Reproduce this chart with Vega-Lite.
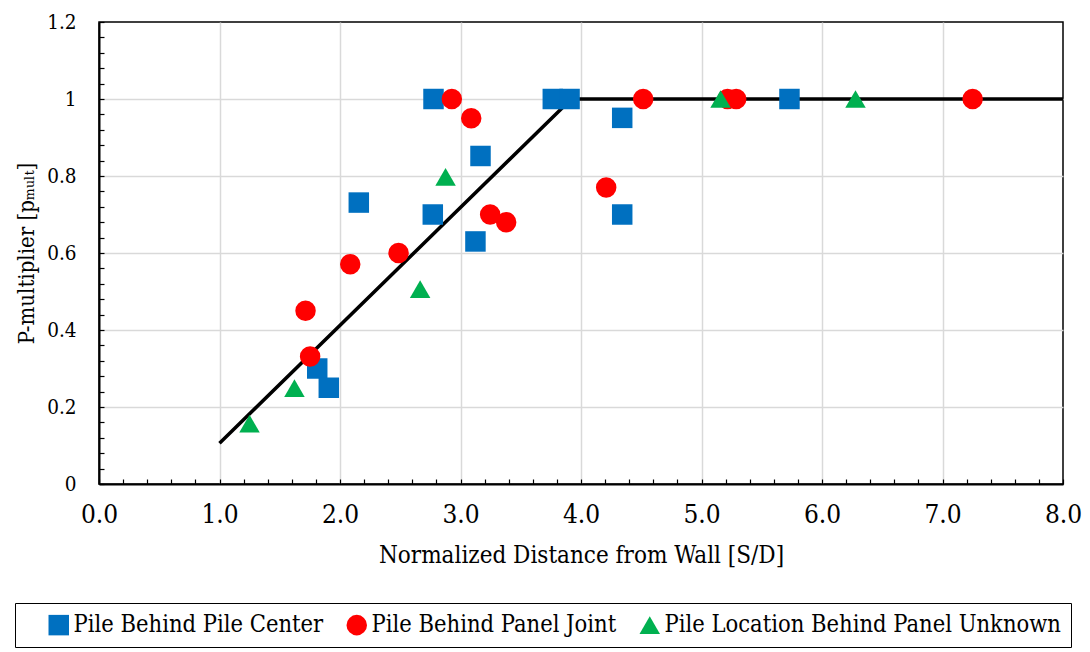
{
  "$schema": "https://vega.github.io/schema/vega-lite/v6.json",
  "width": 964,
  "height": 462,
  "autosize": "none",
  "padding": {"left": 99, "top": 22, "right": 27, "bottom": 168},
  "background": "white",
  "config": {
    "font": "'DejaVu Serif Condensed', 'DejaVu Serif', serif",
    "view": {"stroke": "black", "strokeWidth": 1.5},
    "axis": {"labelFont": "'DejaVu Serif Condensed', 'DejaVu Serif', serif", "titleFont": "'DejaVu Serif Condensed', 'DejaVu Serif', serif", "labelColor": "black", "titleColor": "black", "titleFontWeight": "normal", "domainColor": "black", "tickColor": "black", "gridWidth": 1.5},
    "legend": {"labelFont": "'DejaVu Serif Condensed', 'DejaVu Serif', serif", "titleFont": "'DejaVu Serif Condensed', 'DejaVu Serif', serif"}
  },
  "datasets": {
    "points": [
      {"d": 2.776, "p": 1.0, "series": "Pile Behind Pile Center"},
      {"d": 3.766, "p": 1.0, "series": "Pile Behind Pile Center"},
      {"d": 3.905, "p": 1.0, "series": "Pile Behind Pile Center"},
      {"d": 3.166, "p": 0.852, "series": "Pile Behind Pile Center"},
      {"d": 2.156, "p": 0.731, "series": "Pile Behind Pile Center"},
      {"d": 2.770, "p": 0.700, "series": "Pile Behind Pile Center"},
      {"d": 3.124, "p": 0.630, "series": "Pile Behind Pile Center"},
      {"d": 1.811, "p": 0.300, "series": "Pile Behind Pile Center"},
      {"d": 1.907, "p": 0.250, "series": "Pile Behind Pile Center"},
      {"d": 4.342, "p": 0.951, "series": "Pile Behind Pile Center"},
      {"d": 4.342, "p": 0.700, "series": "Pile Behind Pile Center"},
      {"d": 5.730, "p": 1.0, "series": "Pile Behind Pile Center"},
      {"d": 2.928, "p": 1.0, "series": "Pile Behind Panel Joint"},
      {"d": 3.089, "p": 0.950, "series": "Pile Behind Panel Joint"},
      {"d": 4.209, "p": 0.770, "series": "Pile Behind Panel Joint"},
      {"d": 3.246, "p": 0.700, "series": "Pile Behind Panel Joint"},
      {"d": 3.379, "p": 0.680, "series": "Pile Behind Panel Joint"},
      {"d": 2.486, "p": 0.600, "series": "Pile Behind Panel Joint"},
      {"d": 2.085, "p": 0.571, "series": "Pile Behind Panel Joint"},
      {"d": 1.714, "p": 0.450, "series": "Pile Behind Panel Joint"},
      {"d": 1.752, "p": 0.331, "series": "Pile Behind Panel Joint"},
      {"d": 4.516, "p": 1.0, "series": "Pile Behind Panel Joint"},
      {"d": 5.216, "p": 1.0, "series": "Pile Behind Panel Joint"},
      {"d": 5.288, "p": 1.0, "series": "Pile Behind Panel Joint"},
      {"d": 7.250, "p": 1.0, "series": "Pile Behind Panel Joint"},
      {"d": 1.249, "p": 0.157, "series": "Pile Location Behind Panel Unknown"},
      {"d": 1.622, "p": 0.249, "series": "Pile Location Behind Panel Unknown"},
      {"d": 2.665, "p": 0.506, "series": "Pile Location Behind Panel Unknown"},
      {"d": 2.876, "p": 0.798, "series": "Pile Location Behind Panel Unknown"},
      {"d": 5.158, "p": 1.0, "series": "Pile Location Behind Panel Unknown"},
      {"d": 6.278, "p": 1.0, "series": "Pile Location Behind Panel Unknown"}
    ],
    "trend": [
      {"d": 1.0, "p": 0.106},
      {"d": 3.92, "p": 1.0},
      {"d": 8.0, "p": 1.0}
    ]
  },
  "encoding": {
    "x": {
      "field": "d", "type": "quantitative",
      "scale": {"domain": [0, 8], "nice": false, "zero": false},
      "axis": {
        "title": "Normalized Distance from Wall [S/D]",
        "titleFontSize": 24, "titlePadding": 16,
        "labelFontSize": 26, "labelPadding": 22,
        "values": [0,0.2,0.4,0.6,0.8,1,1.2,1.4,1.6,1.8,2,2.2,2.4,2.6,2.8,3,3.2,3.4,3.6,3.8,4,4.2,4.4,4.6,4.8,5,5.2,5.4,5.6,5.8,6,6.2,6.4,6.6,6.8,7,7.2,7.4,7.6,7.8,8],
        "labelExpr": "abs(datum.value - round(datum.value)) < 0.001 ? format(datum.value, '.1f') : ''",
        "labelFlush": false, "labelOverlap": false,
        "tickSize": -5, "tickWidth": 1.2, "domainWidth": 2,
        "gridColor": {"condition": {"test": "abs(datum.value - round(datum.value)) < 0.001 && datum.value > 0.5 && datum.value < 7.5", "value": "#d9d9d9"}, "value": "transparent"}
      }
    },
    "y": {
      "field": "p", "type": "quantitative",
      "scale": {"domain": [0, 1.2], "nice": false},
      "axis": {
        "title": "P-multiplier [pₘᵤₗₜ]",
        "titleFontSize": 22, "titlePadding": 8,
        "labelFontSize": 20.5, "labelPadding": 28,
        "values": [0,0.04,0.08,0.12,0.16,0.2,0.24,0.28,0.32,0.36,0.4,0.44,0.48,0.52,0.56,0.6,0.64,0.68,0.72,0.76,0.8,0.84,0.88,0.92,0.96,1,1.04,1.08,1.12,1.16,1.2],
        "labelExpr": "abs(datum.value*5 - round(datum.value*5)) < 0.001 ? format(datum.value, '~g') : ''",
        "labelFlush": false, "labelOverlap": false,
        "tickSize": -5, "tickWidth": 1.2, "domainWidth": 2,
        "gridColor": {"condition": {"test": "abs(datum.value*5 - round(datum.value*5)) < 0.001 && datum.value > 0.1 && datum.value < 1.1", "value": "#d9d9d9"}, "value": "transparent"}
      }
    }
  },
  "layer": [
    {
      "data": {"name": "trend"},
      "mark": {"type": "line", "color": "black", "strokeWidth": 3.5}
    },
    {
      "data": {"name": "points"},
      "mark": {"type": "point", "filled": true, "opacity": 1},
      "encoding": {
        "color": {
          "field": "series", "type": "nominal",
          "scale": {"domain": ["Pile Behind Pile Center", "Pile Behind Panel Joint", "Pile Location Behind Panel Unknown"], "range": ["#0070C0", "#FF0000", "#00B050"]},
          "legend": {
            "orient": "none", "legendX": -84, "legendY": 581,
            "direction": "horizontal", "columns": 3,
            "title": " ", "titleOrient": "left", "titlePadding": 22, "titleFontSize": 10,
            "labelFontSize": 23.5, "labelColor": "black", "labelLimit": 600, "labelOffset": 3,
            "symbolSize": 300, "columnPadding": 21,
            "padding": 10, "strokeColor": "black"
          }
        },
        "shape": {
          "field": "series", "type": "nominal",
          "scale": {"domain": ["Pile Behind Pile Center", "Pile Behind Panel Joint", "Pile Location Behind Panel Unknown"], "range": ["square", "circle", "triangle-up"]},
          "legend": null
        },
        "size": {
          "field": "series", "type": "nominal",
          "scale": {"domain": ["Pile Behind Pile Center", "Pile Behind Panel Joint", "Pile Location Behind Panel Unknown"], "range": [420, 420, 520]},
          "legend": null
        }
      }
    }
  ]
}
